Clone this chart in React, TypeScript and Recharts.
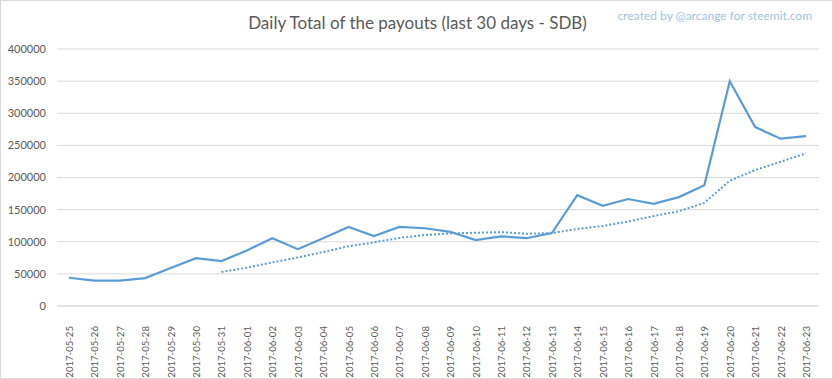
import { LineChart, Line, XAxis, YAxis, CartesianGrid } from "recharts";

const dates = [
  "2017-05-25", "2017-05-26", "2017-05-27", "2017-05-28", "2017-05-29", "2017-05-30",
  "2017-05-31", "2017-06-01", "2017-06-02", "2017-06-03", "2017-06-04", "2017-06-05",
  "2017-06-06", "2017-06-07", "2017-06-08", "2017-06-09", "2017-06-10", "2017-06-11",
  "2017-06-12", "2017-06-13", "2017-06-14", "2017-06-15", "2017-06-16", "2017-06-17",
  "2017-06-18", "2017-06-19", "2017-06-20", "2017-06-21", "2017-06-22", "2017-06-23",
];

const payouts = [
  44000, 39500, 39500, 43500, 59000, 74500, 70000, 86500, 105500, 88500,
  105500, 123000, 109000, 123000, 121000, 115500, 102500, 108500, 105500, 113500,
  172500, 156000, 166500, 159000, 169500, 188000, 350000, 278500, 260500, 264500,
];

const trend = [
  null, null, null, null, null, null, 53000, 59500, 68000, 75500,
  84000, 93000, 99000, 106000, 110500, 113000, 114000, 115000, 112500, 113500,
  120000, 124500, 131500, 140000, 147500, 160500, 195000, 211500, 224500, 237500,
];

const yTicks = [0, 50000, 100000, 150000, 200000, 250000, 300000, 350000, 400000];

const data = dates.map((d, i) => ({ date: d, payout: payouts[i], trend: trend[i] }));

const FONT = "Lato, 'Open Sans', sans-serif";

const DateTick = ({ x, y, payload }: { x?: number; y?: number; payload?: { value: string } }) => (
  <text
    x={0}
    y={0}
    transform={`translate(${(x ?? 0) + 4},${(y ?? 0) + 12}) rotate(-90)`}
    textAnchor="end"
    fill="#595959"
    fontSize={9.6}
    fontFamily={FONT}
  >
    {payload?.value}
  </text>
);

export default function App() {
  return (
    <div
      style={{
        position: "absolute",
        left: 0,
        top: 0,
        width: 833,
        height: 379,
        background: "#fff",
        boxSizing: "border-box",
        border: "1px solid #d9d9d9",
        fontFamily: FONT,
      }}
    >
      <div
        style={{
          position: "absolute",
          left: 0,
          width: 833,
          top: 11,
          textAlign: "center",
          fontSize: 17,
          color: "#595959",
        }}
      >
        Daily Total of the payouts (last 30 days - SDB)
      </div>
      <div
        style={{
          position: "absolute",
          right: 20,
          top: 7,
          fontSize: 12,
          color: "#9dc3e6",
        }}
      >
        created by @arcange for steemit.com
      </div>
      <div style={{ position: "absolute", left: -1, top: -1 }}>
        <LineChart
          width={833}
          height={379}
          data={data}
          margin={{ top: 49, right: 14, left: 0, bottom: 0 }}
        >
          <CartesianGrid vertical={false} stroke="#d9d9d9" strokeWidth={1} />
          <XAxis
            dataKey="date"
            interval={0}
            height={73}
            padding={{ left: 12, right: 13 }}
            tick={<DateTick />}
            tickLine={false}
            axisLine={{ stroke: "#d9d9d9" }}
          />
          <YAxis
            width={57}
            domain={[0, 400000]}
            ticks={yTicks}
            tickSize={0}
            tickMargin={11}
            axisLine={false}
            tickLine={false}
            tick={{ fill: "#595959", fontSize: 11, fontFamily: FONT }}
          />
          <Line
            type="linear"
            dataKey="trend"
            stroke="#5b9bd5"
            strokeWidth={2}
            strokeDasharray="2 2"
            dot={false}
            isAnimationActive={false}
          />
          <Line
            type="linear"
            dataKey="payout"
            stroke="#5b9bd5"
            strokeWidth={2.2}
            dot={false}
            isAnimationActive={false}
          />
        </LineChart>
      </div>
    </div>
  );
}
